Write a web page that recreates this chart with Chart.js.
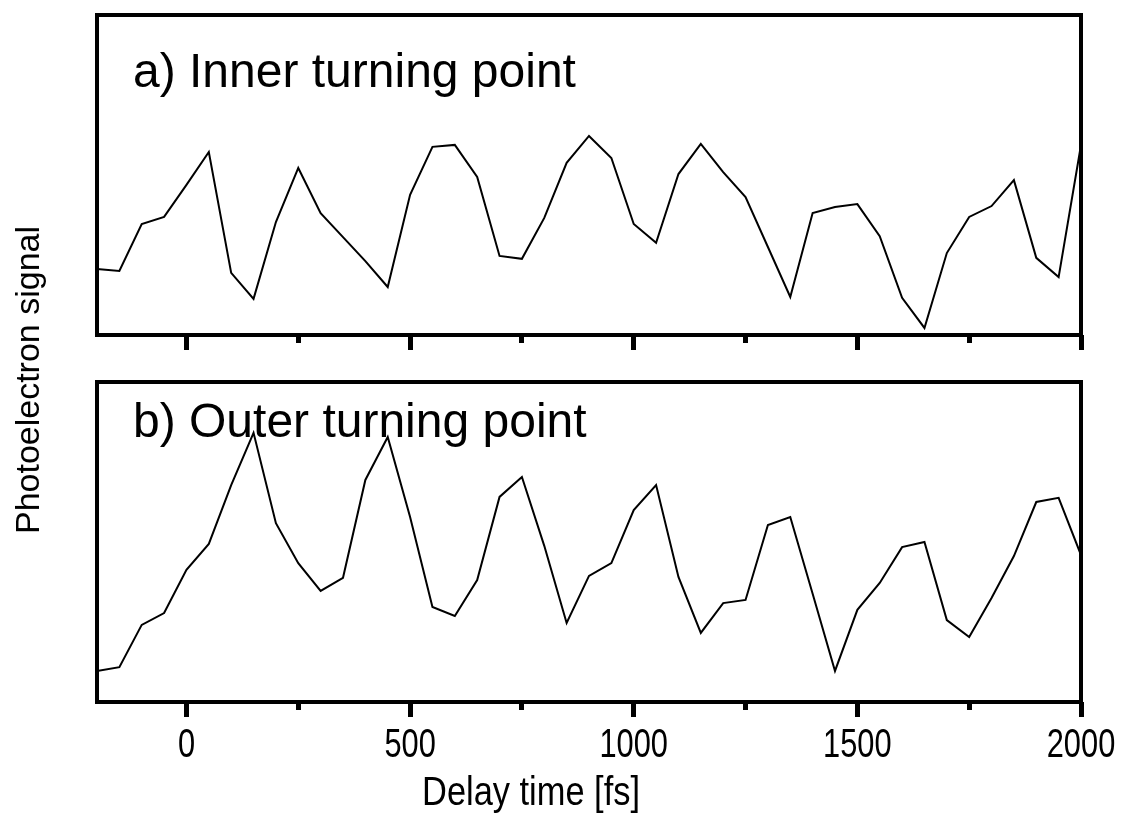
<!DOCTYPE html>
<html>
<head>
<meta charset="utf-8">
<script src="https://cdn.jsdelivr.net/npm/chart.js@4.4.1/dist/chart.umd.min.js"></script>
<style>
  html, body { margin: 0; padding: 0; background: #fff; }
  #wrap { position: relative; width: 1127px; height: 818px; overflow: hidden; }
  #chartA { position: absolute; left: 0; top: 0; }
  #chartB { position: absolute; left: 0; top: 360px; }
  #ytitle {
    position: absolute; left: -173px; top: 360px; width: 400px; height: 40px;
    line-height: 40px; text-align: center; transform: rotate(-90deg);
    font-family: "Liberation Sans", Arial, sans-serif; font-size: 34px; color: #000;
  }
</style>
</head>
<body>
<div id="wrap">
  <canvas id="chartA" width="1127" height="360"></canvas>
  <canvas id="chartB" width="1127" height="458"></canvas>
  <div id="ytitle">Photoelectron signal</div>
</div>
<script>
// delay times in fs, one point every 50 fs
const delays = [-200, -150, -100, -50, 0, 50, 100, 150, 200, 250, 300, 350, 400, 450, 500,
  550, 600, 650, 700, 750, 800, 850, 900, 950, 1000, 1050, 1100, 1150, 1200, 1250, 1300,
  1350, 1400, 1450, 1500, 1550, 1600, 1650, 1700, 1750, 1800, 1850, 1900, 1950, 2000];

// a) inner turning point (arb. units)
const innerSignal = [2.06, 2.00, 3.47, 3.69, 4.69, 5.72, 1.94, 1.13, 3.53, 5.22, 3.81, 3.06,
  2.31, 1.50, 4.38, 5.88, 5.94, 4.94, 2.47, 2.38, 3.66, 5.38, 6.22, 5.53, 3.47, 2.88, 5.03,
  5.97, 5.09, 4.31, 2.75, 1.19, 3.81, 4.00, 4.09, 3.09, 1.16, 0.22, 2.56, 3.69, 4.03, 4.84,
  2.41, 1.81, 5.94];

// b) outer turning point (arb. units)
const outerSignal = [0.97, 1.09, 2.41, 2.78, 4.13, 4.94, 6.78, 8.41, 5.59, 4.34, 3.47, 3.88,
  6.94, 8.28, 5.78, 2.97, 2.69, 3.81, 6.41, 7.03, 4.88, 2.47, 3.94, 4.34, 6.00, 6.78, 3.91,
  2.16, 3.09, 3.19, 5.53, 5.78, 3.38, 0.97, 2.88, 3.72, 4.84, 5.00, 2.56, 2.03, 3.25, 4.56,
  6.25, 6.38, 4.59];

const xTicks = [0, 250, 500, 750, 1000, 1250, 1500, 1750, 2000];
const xLabels = ["0", "", "500", "", "1000", "", "1500", "", "2000"];

const panelTitles = ["a) Inner turning point", "b) Outer turning point"];
const xTitle = "Delay time [fs]";

const sansFont = '"Liberation Sans", Arial, sans-serif';

function points(ys) {
  return delays.map((d, i) => ({ x: d, y: ys[i] }));
}

// draws text squeezed sideways (the original used a narrow face)
function narrowText(ctx, text, x, y, size, squeeze, align) {
  ctx.save();
  ctx.translate(x, y);
  ctx.scale(squeeze, 1);
  ctx.font = size + "px " + sansFont;
  ctx.textAlign = align;
  ctx.textBaseline = "alphabetic";
  ctx.fillText(text, 0, 0);
  ctx.restore();
}

// frame round the plot area plus the free texts
function framePlugin(opts) {
  return {
    id: "frame",
    afterDatasetsDraw(chart) {
      const { ctx, chartArea: a } = chart;
      ctx.save();
      ctx.strokeStyle = "#000";
      ctx.lineWidth = 4;
      ctx.strokeRect(a.left, a.top, a.right - a.left, a.bottom - a.top);
      ctx.fillStyle = "#000";
      ctx.font = "48px " + sansFont;
      ctx.textAlign = "left";
      ctx.fillText(opts.title, 133, opts.titleY);
      if (opts.labels) {
        const xs = chart.scales.x;
        xTicks.forEach((v, i) => {
          if (xLabels[i]) narrowText(ctx, xLabels[i], xs.getPixelForValue(v), a.bottom + 55, 40, 0.77, "center");
        });
        narrowText(ctx, xTitle, 531, a.bottom + 103, 40, 0.86, "center");
      }
      ctx.restore();
    }
  };
}

function makeChart(id, ys, opts) {
  return new Chart(document.getElementById(id), {
    type: "line",
    data: {
      datasets: [{
        data: points(ys),
        borderColor: "#000",
        borderWidth: 2,
        pointRadius: 0,
        tension: 0,
        fill: false
      }]
    },
    options: {
      responsive: false,
      animation: false,
      layout: { padding: { left: 97, right: 46, top: opts.top, bottom: 0 } },
      plugins: { legend: { display: false }, tooltip: { enabled: false } },
      scales: {
        x: {
          type: "linear",
          min: -200,
          max: 2000,
          afterBuildTicks: s => { s.ticks = xTicks.map(v => ({ value: v })); },
          afterFit: s => { s.height = opts.axisHeight; },
          border: { display: false },
          grid: {
            drawOnChartArea: false,
            drawTicks: true,
            tickLength: 15,
            tickWidth: 5,
            tickColor: "#000",
            tickBorderDash: c => (c.tick && c.tick.value % 500 === 0) ? [] : [8, 100]
          },
          ticks: { display: false }
        },
        y: { display: false, min: 0, max: 10 }
      }
    },
    plugins: [framePlugin(opts)]
  });
}

makeChart("chartA", innerSignal, {
  top: 15,
  axisHeight: 25,
  labels: false,
  title: panelTitles[0],
  titleY: 87
});

makeChart("chartB", outerSignal, {
  top: 22,
  axisHeight: 116,
  labels: true,
  title: panelTitles[1],
  titleY: 77
});
</script>
</body>
</html>
